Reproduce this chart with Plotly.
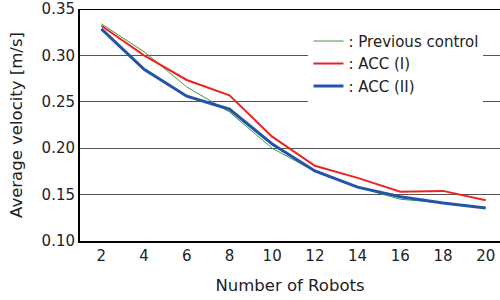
import plotly.graph_objects as go

robots = [2, 4, 6, 8, 10, 12, 14, 16, 18, 20]
previous_control = [0.334, 0.304, 0.266, 0.239, 0.200, 0.175, 0.158, 0.145, 0.141, 0.136]
acc_1 = [0.332, 0.300, 0.2735, 0.257, 0.2125, 0.181, 0.168, 0.153, 0.154, 0.144]
acc_2 = [0.3285, 0.285, 0.256, 0.242, 0.2045, 0.1755, 0.158, 0.1477, 0.141, 0.1355]

x_ticks = [2, 4, 6, 8, 10, 12, 14, 16, 18, 20]
y_ticks = [0.10, 0.15, 0.20, 0.25, 0.30, 0.35]

FONT = "DejaVu Sans"
TXT = "#222222"

fig = go.Figure()
fig.add_trace(go.Scatter(x=robots, y=previous_control, mode="lines", name=": Previous control",
                         line=dict(color="#3a9a3a", width=1)))
fig.add_trace(go.Scatter(x=robots, y=acc_1, mode="lines", name=": ACC (I)",
                         line=dict(color="#ee2222", width=2)))
fig.add_trace(go.Scatter(x=robots, y=acc_2, mode="lines", name=": ACC (II)",
                         line=dict(color="#2255aa", width=3)))

fig.add_shape(type="line", xref="paper", yref="y", x0=0, x1=1, y0=0.35, y1=0.35,
              line=dict(color="black", width=2), layer="below")

fig.update_layout(
    width=500, height=300,
    margin=dict(l=80, r=0, t=9, b=59, autoexpand=False),
    paper_bgcolor="white", plot_bgcolor="white",
    font=dict(family=FONT, size=15, color=TXT),
    showlegend=True,
    legend=dict(x=0.544, y=0.932, xanchor="left", yanchor="top",
                bgcolor="white", borderwidth=0,
                font=dict(family=FONT, size=15, color=TXT),
                tracegroupgap=0, itemwidth=30),
    xaxis=dict(range=[1, 20.67], tickvals=x_ticks, ticktext=[str(v) for v in x_ticks],
               showgrid=False, zeroline=False, showline=True, linecolor="black", linewidth=2,
               ticks="", automargin=False, tickfont=dict(size=15, color=TXT),
               title=dict(text="Number of Robots", font=dict(size=16.5, color=TXT))),
    yaxis=dict(range=[0.10, 0.35], tickvals=y_ticks, ticktext=[f"{v:.2f}" for v in y_ticks],
               showgrid=True, gridcolor="#555555", gridwidth=1, zeroline=False,
               showline=True, linecolor="black", linewidth=2, ticks="", automargin=False,
               tickfont=dict(size=15, color=TXT),
               title=dict(text="Average velocity [m/s]", font=dict(size=16.5, color=TXT))),
)

fig.write_html("out.html", config={"displayModeBar": False},
               post_script="document.body.style.margin='0';document.body.style.overflow='hidden';")
